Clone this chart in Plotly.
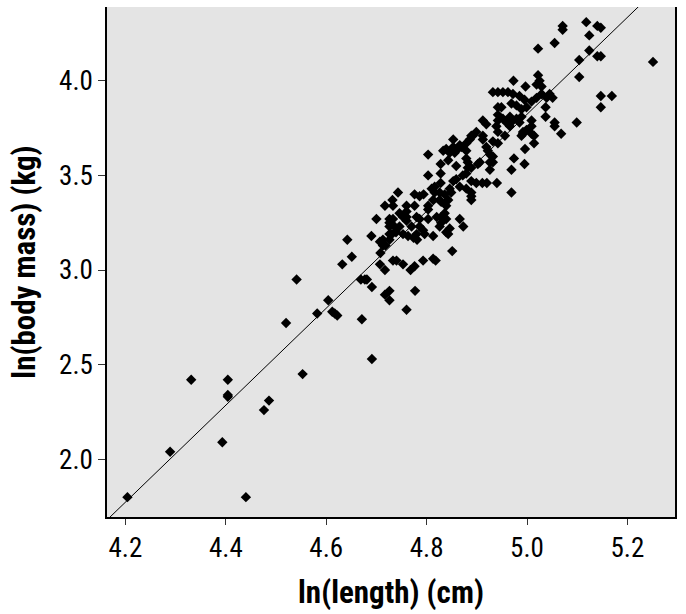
import plotly.graph_objects as go

# ln(length) (cm)
ln_length = [
    4.204, 4.289, 4.331, 4.404, 4.404, 4.404, 4.393, 4.440, 4.476, 4.486,
    4.520, 4.553, 4.541, 4.582, 4.604, 4.612, 4.617, 4.622, 4.632, 4.651,
    4.671, 4.669, 4.677, 4.681, 4.691, 4.691, 4.707, 4.717, 4.708, 4.717,
    4.726, 4.726, 4.733, 4.740, 4.642, 4.690, 4.707, 4.713, 4.718, 4.760,
    4.777, 4.753, 4.768, 4.776, 4.793, 4.818, 4.851, 4.731, 4.739, 4.753,
    4.763, 4.774, 4.781, 4.796, 4.813, 4.803, 4.833, 4.828, 4.828, 4.803,
    4.828, 4.810, 4.743, 4.776, 4.786, 4.794, 4.816, 4.826, 4.732, 4.733,
    4.717, 4.760, 4.776, 4.803, 4.803, 4.813, 4.826, 4.760, 4.760, 4.760,
    4.700, 4.726, 4.733, 4.780, 4.803, 4.820, 4.726, 4.736, 4.746, 4.770,
    4.786, 4.826, 5.071, 5.071, 5.055, 5.022, 5.022, 4.973, 4.997, 5.019,
    5.025, 5.029, 4.932, 4.942, 4.952, 4.962, 4.972, 4.985, 4.995, 5.009,
    5.019, 5.029, 5.039, 5.045, 5.051, 4.942, 4.949, 4.969, 4.979, 4.989,
    4.999, 4.942, 4.952, 4.966, 4.979, 4.989, 5.037, 5.037, 5.055, 4.912,
    4.919, 4.959, 4.972, 4.985, 5.009, 5.118, 5.140, 5.147, 5.124, 5.124,
    5.140, 5.147, 5.104, 5.104, 5.251, 5.147, 5.169, 5.147, 5.099, 5.055,
    5.068, 5.009, 4.999, 4.992, 4.989, 5.014, 5.014, 4.996, 4.974, 4.995,
    4.969, 4.969, 4.940, 4.920, 4.911, 4.899, 4.889, 4.889, 4.866, 4.879,
    4.853, 4.859, 4.906, 4.926, 4.926, 4.932, 4.922, 4.919, 4.912, 4.912,
    4.956, 4.939, 4.942, 4.942, 4.899, 4.892, 4.886, 4.879, 4.869, 4.862,
    4.853, 4.846, 4.839, 4.859, 4.879, 4.882, 4.882, 4.879, 4.816, 4.849,
    4.843, 4.839, 4.836, 4.829, 4.839, 4.829, 4.846, 4.866, 4.873, 4.843,
    4.786, 4.793, 4.780, 4.746, 4.753, 4.726, 4.726, 4.726, 4.713, 4.813,
    4.966, 4.853, 4.856, 4.866, 4.889, 4.926, 4.932, 4.942, 4.992, 5.009,
    4.889, 4.932, 4.902, 4.889, 4.872, 4.846, 4.836, 4.829, 4.879, 4.843, 4.889, 4.839,
]

# ln(body mass) (kg)
ln_mass = [
    1.80, 2.04, 2.42, 2.42, 2.34, 2.33, 2.09, 1.80, 2.26, 2.31,
    2.72, 2.45, 2.95, 2.77, 2.84, 2.78, 2.77, 2.76, 3.03, 3.07,
    2.74, 2.95, 2.95, 2.95, 2.91, 2.53, 3.03, 3.00, 3.09, 2.87,
    2.89, 2.84, 3.05, 3.05, 3.16, 3.18, 3.15, 3.13, 3.13, 2.79,
    2.89, 3.03, 3.00, 3.02, 3.05, 3.05, 3.10, 3.19, 3.20, 3.19,
    3.18, 3.17, 3.16, 3.19, 3.18, 3.61, 3.63, 3.56, 3.51, 3.50,
    3.46, 3.43, 3.41, 3.40, 3.39, 3.40, 3.41, 3.41, 3.37, 3.34,
    3.34, 3.34, 3.34, 3.34, 3.32, 3.37, 3.37, 3.31, 3.28, 3.26,
    3.27, 3.27, 3.27, 3.28, 3.27, 3.28, 3.23, 3.23, 3.23, 3.23,
    3.23, 3.23, 4.29, 4.27, 4.20, 4.17, 4.03, 4.00, 3.97, 3.98,
    4.00, 3.97, 3.94, 3.94, 3.94, 3.94, 3.93, 3.92, 3.90, 3.89,
    3.91, 3.93, 3.91, 3.93, 3.91, 3.86, 3.86, 3.88, 3.87, 3.85,
    3.86, 3.82, 3.80, 3.81, 3.80, 3.81, 3.86, 3.81, 3.78, 3.79,
    3.77, 3.78, 3.79, 3.78, 3.79, 4.31, 4.29, 4.28, 4.24, 4.16,
    4.13, 4.13, 4.11, 4.02, 4.10, 3.92, 3.92, 3.86, 3.78, 3.76,
    3.72, 3.76, 3.74, 3.72, 3.71, 3.71, 3.67, 3.64, 3.59, 3.56,
    3.53, 3.41, 3.46, 3.46, 3.46, 3.46, 3.41, 3.37, 3.44, 3.43,
    3.47, 3.48, 3.57, 3.57, 3.53, 3.60, 3.63, 3.65, 3.71, 3.69,
    3.71, 3.76, 3.73, 3.79, 3.73, 3.71, 3.69, 3.67, 3.65, 3.64,
    3.65, 3.62, 3.64, 3.55, 3.59, 3.57, 3.54, 3.51, 3.44, 3.41,
    3.37, 3.34, 3.30, 3.28, 3.27, 3.25, 3.22, 3.27, 3.23, 3.19,
    3.27, 3.21, 3.19, 3.30, 3.28, 3.25, 3.19, 3.16, 3.16, 3.06,
    3.76, 3.69, 3.62, 3.66, 3.71, 3.61, 3.68, 3.67, 3.73, 3.72,
    3.47, 3.57, 3.56, 3.54, 3.50, 3.43, 3.40, 3.36, 3.63, 3.58, 3.39, 3.20,
]

# fitted regression line
fit_slope = 2.562
fit_intercept = -8.987

x_range = [4.1633, 5.2948]
y_range = [1.695, 4.390]

x_ticks = [4.2, 4.4, 4.6, 4.8, 5.0, 5.2]
y_ticks = [2.0, 2.5, 3.0, 3.5, 4.0]

line_x = [x_range[0], x_range[1]]
line_y = [fit_slope * v + fit_intercept for v in line_x]

FONT = "Liberation Sans Narrow, Arial Narrow, Roboto Condensed, sans-serif"

fig = go.Figure()
fig.add_trace(go.Scatter(
    x=line_x, y=line_y, mode="lines",
    line=dict(color="black", width=1), hoverinfo="skip", showlegend=False,
))
fig.add_trace(go.Scatter(
    x=ln_length, y=ln_mass, mode="markers",
    marker=dict(symbol="diamond", size=8, color="black", line=dict(width=0)),
    showlegend=False,
))

fig.update_layout(
    width=686, height=614,
    margin=dict(l=107, r=11, t=7, b=97),
    paper_bgcolor="white",
    plot_bgcolor="#e4e4e4",
    font=dict(family=FONT, color="black", size=24),
    xaxis=dict(
        range=x_range, tickvals=x_ticks, tickformat=".1f",
        automargin=False,
        showgrid=False, zeroline=False,
        showline=True, linecolor="black", linewidth=1.5, mirror=False,
        ticks="outside", ticklen=6, tickwidth=1, tickcolor="#333",
        tickfont=dict(family=FONT, size=27),
        title=dict(text="ln(length) (cm)", standoff=18,
                   font=dict(family=FONT, size=31, weight="bold")),
    ),
    yaxis=dict(
        range=y_range, tickvals=y_ticks, tickformat=".1f",
        automargin=False,
        showgrid=False, zeroline=False,
        showline=True, linecolor="black", linewidth=1.5, mirror=True,
        ticks="outside", ticklen=7, tickwidth=1, tickcolor="#333",
        tickfont=dict(family=FONT, size=27),
        title=dict(text="ln(body mass) (kg)", standoff=14,
                   font=dict(family=FONT, size=31, weight="bold")),
    ),
)

fig.write_html(
    "out.html",
    config={"displayModeBar": False},
    post_script="document.body.style.margin='0';document.body.style.padding='0';",
)
